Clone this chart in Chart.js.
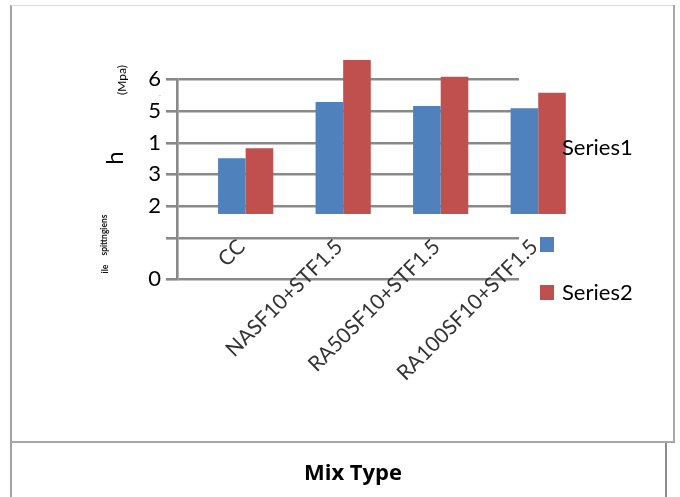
<!DOCTYPE html>
<html>
<head>
<meta charset="utf-8">
<script src="https://cdn.jsdelivr.net/npm/chart.js@4"></script>
<style>
  html, body { margin: 0; padding: 0; background: #fff; }
  #page { position: relative; width: 680px; height: 497px; overflow: hidden; background: #fff; font-family: Lato, sans-serif; }
  #plot { position: absolute; left: 0; top: 0; width: 680px; height: 497px; }
  .rule { position: absolute; }
  .txt { position: absolute; white-space: nowrap; line-height: 1; color: #000; }
  .rot { transform: translate(-50%, -50%) rotate(-90deg); transform-origin: 50% 50%; }
  .swatch { position: absolute; width: 14px; height: 15px; }
</style>
</head>
<body>
<div id="page">
  <!-- frame lines -->
  <div class="rule" style="left:10px;top:5px;width:2px;height:492px;background:#a2a2a2"></div>
  <div class="rule" style="left:11px;top:5px;width:664px;height:1px;background:#dcdcdc"></div>
  <div class="rule" style="left:673px;top:5px;width:2px;height:437px;background:#a8a8a8"></div>
  <div class="rule" style="left:11px;top:441px;width:664px;height:2px;background:#a8a8a8"></div>
  <div class="rule" style="left:665px;top:443px;width:2px;height:54px;background:#8c8c8c"></div>

  <div id="plot"><canvas id="chart"></canvas></div>

  <!-- y-axis title fragments -->
  <div class="txt rot" style="left:122px;top:80px;font-size:12px">(Mpa)</div>
  <div class="txt" style="left:159px;top:89px;font-size:8px;color:#999">.</div>
  <div class="txt rot" style="left:114px;top:158px;font-size:24px">h</div>
  <div class="txt rot" style="left:104px;top:235px;font-size:8.5px;font-weight:bold;color:#111">spittngiens</div>
  <div class="txt rot" style="left:105px;top:269px;font-size:8.5px;font-weight:bold;color:#111">ile</div>

  <!-- legend -->
  <div class="txt" id="lg1" style="left:562px;top:136px;font-size:22px">Series1</div>
  <div class="swatch" id="sw1" style="left:540px;top:237px"></div>
  <div class="swatch" id="sw2" style="left:540px;top:285px"></div>
  <div class="txt" id="lg2" style="left:562px;top:281px;font-size:22px">Series2</div>

  <!-- x-axis title -->
  <div class="txt" style="left:353px;top:471px;transform:translate(-50%,-50%);font-family:'Open Sans',sans-serif;font-weight:bold;font-size:22px">Mix Type</div>
</div>

<script>
// Splitting tensile strength (MPa) per mix type
const mixTypes = ['CC', 'NASF10+STF1.5', 'RA50SF10+STF1.5', 'RA100SF10+STF1.5'];
const series1 = [3.62, 5.31, 5.19, 5.12];
const series2 = [3.92, 6.57, 6.07, 5.59];
const barBase = 1.95;

// value-axis ticks and their printed labels
const yTickValues = [0, 1.22, 2.19, 3.14, 4.07, 5.04, 6];
const yTickLabels = ['0', '', '2', '3', '1', '5', '6'];
const xAxisAt = 1.22;

const blue = '#4F81BD';
const red = '#C0504D';
const gridGrey = '#898989';

document.getElementById('sw1').style.background = blue;
document.getElementById('sw2').style.background = red;

Chart.defaults.font.family = 'Lato, sans-serif';

new Chart(document.getElementById('chart'), {
  type: 'bar',
  data: {
    datasets: [
      {
        label: 'Series1',
        data: series1.map((v, i) => ({ x: i, y: v })),
        backgroundColor: blue,
        base: barBase,
        clip: false
      },
      {
        label: 'Series2',
        data: series2.map((v, i) => ({ x: i, y: v })),
        backgroundColor: red,
        base: barBase,
        clip: false
      }
    ]
  },
  options: {
    responsive: true,
    maintainAspectRatio: false,
    devicePixelRatio: 1,
    animation: false,
    events: [],
    layout: { padding: { left: 147, right: 161, top: 79, bottom: 218 } },
    datasets: { bar: { barPercentage: 1, categoryPercentage: 0.566 } },
    plugins: {
      legend: { display: false },
      tooltip: { enabled: false }
    },
    scales: {
      x: {
        type: 'linear',
        position: { y: xAxisAt },
        offset: false,
        min: -0.704,
        max: 2.803,
        grid: { display: false, offset: false },
        border: { display: false },
        afterBuildTicks(scale) {
          scale.ticks = mixTypes.map((_, i) => ({ value: i }));
        },
        ticks: {
          autoSkip: false,
          minRotation: 45,
          maxRotation: 45,
          padding: -12,
          labelOffset: -4,
          color: '#333',
          font: { size: 21 },
          callback: (value, index) => mixTypes[index]
        }
      },
      y: {
        type: 'linear',
        position: 'left',
        min: 0,
        max: 6,
        afterBuildTicks(scale) {
          scale.ticks = yTickValues.map(v => ({ value: v }));
        },
        afterFit(scale) {
          scale.width = 30;
        },
        grid: { color: gridGrey, lineWidth: 2.6, tickLength: 11, drawTicks: true },
        border: { display: true, color: gridGrey, width: 2.6 },
        ticks: {
          autoSkip: false,
          padding: 5,
          color: '#000',
          font: { size: 22 },
          callback: (value, index) => yTickLabels[index]
        }
      }
    }
  }
});
</script>
</body>
</html>
